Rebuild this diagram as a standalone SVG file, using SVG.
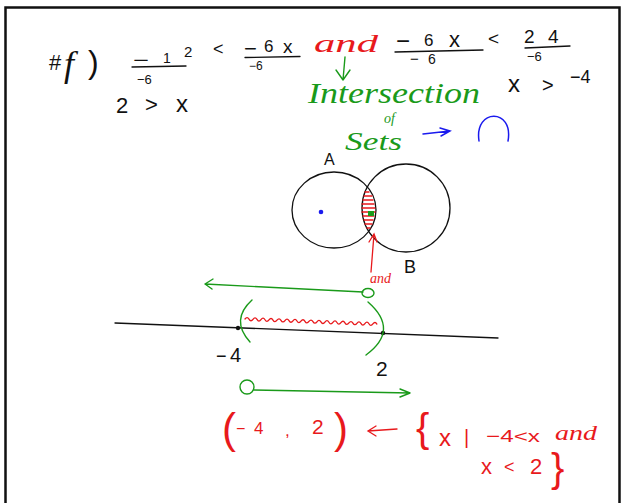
<svg xmlns="http://www.w3.org/2000/svg" width="623" height="503" viewBox="0 0 623 503">
<defs>
<style>
text{font-family:"Liberation Sans","DejaVu Sans",sans-serif;}
.k{fill:#111;}
.r{fill:#e8191c;}
.g{fill:#1a9a1a;}
.b{fill:#1a1aee;}
.hw{font-style:italic;font-family:"Liberation Serif","DejaVu Serif",serif;}
.sk{fill:none;stroke:#111;stroke-width:1.3;stroke-linecap:round;}
.sr{fill:none;stroke:#e8191c;stroke-width:1.3;stroke-linecap:round;}
.sg{fill:none;stroke:#1a9a1a;stroke-width:1.4;stroke-linecap:round;stroke-linejoin:round;}
.sb{fill:none;stroke:#1a1aee;stroke-width:1.5;stroke-linecap:round;}
</style>
</defs>
<rect width="623" height="503" fill="#fff"/>
<path d="M5.5 520 V7.5 H619.5 V520" fill="none" stroke="#111" stroke-width="2.5"/>

<!-- top left -->
<text class="k" x="49" y="70" font-size="22">#</text>
<text class="k hw" x="64" y="76" font-size="36">f</text>
<text class="k" x="88" y="73" font-size="32">)</text>

<text class="k" x="133" y="67" font-size="20" textLength="16" lengthAdjust="spacingAndGlyphs">−</text>
<text class="k" x="163" y="63" font-size="14">1</text>
<text class="k" x="184" y="57" font-size="15">2</text>
<path class="sk" d="M132 67 L186 66"/>
<text class="k" x="137" y="84" font-size="13">−6</text>

<text class="k" x="213" y="55" font-size="18">&lt;</text>
<text class="k" x="244" y="56" font-size="22">−</text>
<text class="k" x="264" y="52" font-size="17">6</text>
<text class="k" x="283" y="53" font-size="19">x</text>
<path class="sk" d="M245 57.5 L300 56.5"/>
<text class="k" x="249" y="70" font-size="12">−6</text>

<text class="r hw" x="314" y="52" font-size="26" textLength="64" lengthAdjust="spacingAndGlyphs">and</text>

<text class="k" x="396" y="49" font-size="24">−</text>
<text class="k" x="424" y="46" font-size="17">6</text>
<text class="k" x="449" y="47" font-size="22">x</text>
<path class="sk" d="M395 52 L483 50"/>
<text class="k" x="410" y="64" font-size="15">−</text>
<text class="k" x="428" y="64" font-size="14">6</text>
<text class="k" x="488" y="45" font-size="19">&lt;</text>
<text class="k" x="524" y="43" font-size="19">2</text>
<text class="k" x="548" y="43" font-size="19">4</text>
<path class="sk" d="M525 48 L570 46"/>
<text class="k" x="527" y="61" font-size="13">−6</text>

<text class="k" x="116" y="113" font-size="22">2</text>
<text class="k" x="145" y="112" font-size="22">&gt;</text>
<text class="k" x="176" y="112" font-size="24">x</text>
<text class="k" x="508" y="92" font-size="24">x</text>
<text class="k" x="542" y="92" font-size="20">&gt;</text>
<text class="k" x="570" y="83" font-size="18">−4</text>

<!-- green words -->
<path class="sg" d="M345 57 L343 80 M336 70 L343 80 L350 70"/>
<text class="g hw" x="308" y="103" font-size="30" textLength="172" lengthAdjust="spacingAndGlyphs">Intersection</text>
<text class="g hw" x="384" y="123" font-size="14">of</text>
<text class="g hw" x="345" y="150" font-size="25" textLength="57" lengthAdjust="spacingAndGlyphs">Sets</text>
<path class="sb" d="M423 134 L450 131 M440 128 L450 131 L441 136"/>
<path class="sb" d="M479 141 C474 108 514 108 508 141"/>

<!-- Venn -->
<g id="setA">
<ellipse cx="334" cy="210" rx="42" ry="38" class="sk"/>
<circle cx="321" cy="212" r="2.3" fill="#1a1aee"/>
<text class="k" x="324" y="165" font-size="16">A</text>
</g>
<g id="setB">
<ellipse cx="406" cy="208" rx="44" ry="44" class="sk"/>
<text class="k" x="404" y="273" font-size="18">B</text>
</g>
<g id="lens" class="sr">
<path d="M365 192 H369 M364 196 H372 M363 200 H373 M362 204 H374 M362 208 H375 M362 212 H375 M363 216 H374 M364 220 H373 M365 224 H372 M367 228 H370"/>
</g>
<rect x="368" y="211" width="6" height="5" fill="#1a9a1a"/>
<g id="connectors">
<path class="sr" d="M371 272 L374 234 M369 242 L374 234 L377 242"/>
<path class="sg" d="M363 292 L205 284 M213 279 L205 284 L212 289"/>
<path class="sg" d="M254 390 L410 393 M400 389 L410 393 L400 397"/>
<path class="sr" d="M368 431 L397 429 M376 426 L368 431 L376 436"/>
</g>
<text class="r hw" x="370" y="283" font-size="14">and</text>

<!-- number line -->
<path class="sk" d="M115 323 L498 338"/>
<circle cx="238" cy="328" r="2.2" fill="#111"/>
<circle cx="383" cy="333" r="2.2" fill="#111"/>
<path class="sg" d="M252 300 Q230 320 250 342"/>
<path class="sg" d="M368 302 Q400 330 366 355"/>
<ellipse cx="368" cy="293" rx="6" ry="4.5" class="sg"/>
<circle cx="247" cy="387" r="7" class="sg"/>
<path class="sr" transform="rotate(2.2 245 319)" d="M245 319 q2 -3 4 0 t4 0 t4 0 t4 0 t4 0 t4 0 t4 0 t4 0 t4 0 t4 0 t4 0 t4 0 t4 0 t4 0 t4 0 t4 0 t4 0 t4 0 t4 0 t4 0 t4 0 t4 0 t4 0 t4 0 t4 0 t4 0 t4 0 t4 0 t4 0 t4 0 t4 0 t4 0 t4 0"/>
<text class="k" x="216" y="362" font-size="18">−</text>
<text class="k" x="230" y="362" font-size="20">4</text>
<text class="k" x="376" y="376" font-size="21">2</text>

<!-- bottom red -->
<text class="r" x="222" y="443" font-size="42">(</text>
<text class="r" x="236" y="434" font-size="16">−</text>
<text class="r" x="254" y="434" font-size="17">4</text>
<text class="r" x="285" y="436" font-size="17">,</text>
<text class="r" x="312" y="434" font-size="21">2</text>
<text class="r" x="334" y="443" font-size="42">)</text>
<text class="r" x="416" y="442" font-size="40">{</text>
<text class="r" x="439" y="446" font-size="24">x</text>
<text class="r" x="464" y="444" font-size="20">|</text>
<text class="r" x="486" y="442" font-size="17" textLength="54" lengthAdjust="spacingAndGlyphs">−4&lt;x</text>
<text class="r hw" x="555" y="440" font-size="21" textLength="42" lengthAdjust="spacingAndGlyphs">and</text>
<text class="r" x="481" y="474" font-size="22">x</text>
<text class="r" x="504" y="473" font-size="18">&lt;</text>
<text class="r" x="530" y="474" font-size="22">2</text>
<text class="r" x="551" y="482" font-size="40">}</text>
</svg>
